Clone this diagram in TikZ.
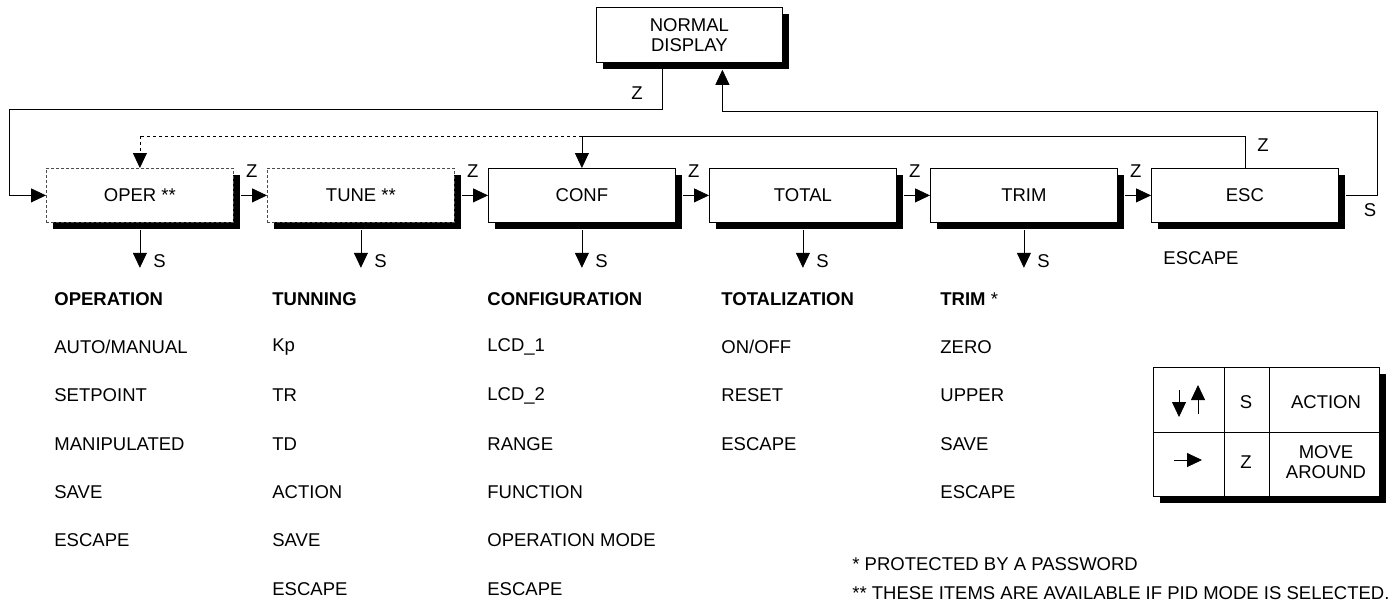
\documentclass[tikz,border=0pt]{standalone}
\usepackage{fontspec}
\setmainfont{Liberation Sans}
\usetikzlibrary{arrows.meta,shadows}

\begin{document}
\begin{tikzpicture}[x=1pt, y=-1pt, line width=0.8pt,
  txt/.style={font=\fontsize{18.5}{20}\selectfont, inner sep=0pt},
  boxshadow/.style={drop shadow={shadow xshift=7pt, shadow yshift=-7pt, fill=black, opacity=1}},
  menu/.style={txt, draw, fill=white, boxshadow, minimum width=187pt, minimum height=54pt, anchor=north west},
  optbox/.style={dash pattern=on 3pt off 2pt, draw=black!70},
  arr/.style={-{Triangle[length=15pt, width=14pt]}},
  item/.style={txt, anchor=west},
  head/.style={item, font=\fontsize{18.5}{20}\selectfont\bfseries}]
  \useasboundingbox (0,0) rectangle (1394,611);
  \coordinate (zleft) at (9,109); \coordinate (sright) at (1377,111); \coordinate (bus) at (0,136);
  % menu boxes
  \node[menu, align=center, minimum width=186pt, minimum height=55pt] (normal) at (596,7) {NORMAL\\DISPLAY};
  \node[menu, optbox] (oper) at (46,168) {OPER **};
  \node[menu, optbox] (tune) at (267,168) {TUNE **};
  \node[menu] (conf) at (488,168) {CONF};
  \node[menu] (total) at (709,168) {TOTAL};
  \node[menu] (trim) at (930,168) {TRIM};
  \node[menu] (esc) at (1151,168) {ESC};
  % Z: from one box to the next
  \foreach \a/\b in {oper/tune, tune/conf, conf/total, total/trim, trim/esc} {
    \draw[arr] ([xshift=7pt]\a.east) -- (\b.west);
    \node[txt, anchor=base west] (z\a) at ([xshift=12pt, yshift=-9pt]\a.north east) {Z};
  }
  % S: into the menu
  \foreach \b in {oper, tune, conf, total, trim}
    \draw[arr] ([yshift=-7pt]\b.south) -- ++(0,38) node[txt, anchor=base west, xshift=13pt] (s\b) {S};
  % Z from normal display
  \draw[arr] ([xshift=-27pt]normal.south) |- (zleft) |- (oper.west);
  \node[txt] (znormal) at (637,93) {Z};
  % S from esc back to normal display
  \draw[arr] ([xshift=7pt]esc.east) -| (sright) -| ([xshift=33pt, yshift=-7pt]normal.south);
  \node[txt] (sesc) at (1370,210) {S};
  % Z from esc (dashed if PID)
  \draw (esc.north) -- (esc.north |- bus) -- (conf.north |- bus);
  \draw[arr] (conf.north |- bus) -- (conf.north);
  \draw[dashed] (conf.north |- bus) -- (oper.north |- bus);
  \draw[arr, dashed] (oper.north |- bus) -- (oper.north);
  \node[txt] (zesc) at (1263,145) {Z};
  \node[item] (escape) at (1163,258) {ESCAPE};
  % sub menus
  \node[head] (hoper) at (54,299) {OPERATION};
  \foreach \t [count=\k] in {AUTO/MANUAL, SETPOINT, MANIPULATED, SAVE, ESCAPE}
    \node[item] (oper\k) at (54,299+48.3*\k) {\t};
  \node[head] (htune) at (272,299) {TUNNING};
  \foreach \t [count=\k] in {Kp, TR, TD, ACTION, SAVE, ESCAPE}
    \node[item] (tune\k) at (272,299+48.3*\k) {\t};
  \node[head] (hconf) at (487,299) {CONFIGURATION};
  \foreach \t [count=\k] in {LCD\_1, LCD\_2, RANGE, FUNCTION, OPERATION MODE, ESCAPE}
    \node[item] (conf\k) at (487,299+48.3*\k) {\t};
  \node[head] (htotal) at (721,299) {TOTALIZATION};
  \foreach \t [count=\k] in {ON/OFF, RESET, ESCAPE}
    \node[item] (total\k) at (721,299+48.3*\k) {\t};
  \node[head] (htrim) at (940,299) {TRIM \textmd{*}};
  \foreach \t [count=\k] in {ZERO, UPPER, SAVE, ESCAPE}
    \node[item] (trim\k) at (940,299+48.3*\k) {\t};
  % legend
  \node[draw, fill=white, boxshadow, minimum width=226pt, minimum height=129pt, inner sep=0pt, anchor=north west] (legend) at (1153,367) {};
  \draw (legend.west) -- (legend.east);
  \draw ([xshift=71pt]legend.north west) -- ([xshift=71pt]legend.south west);
  \draw ([xshift=116pt]legend.north west) -- ([xshift=116pt]legend.south west);
  \draw[arr] (1179,390) -- (1179,417);
  \draw[arr] (1198,414) -- (1198,385);
  \draw[arr] (1174,460) -- (1202,460);
  \node[txt] (ls) at (1246,402) {S};
  \node[txt] (laction) at (1326,402) {ACTION};
  \node[txt] (lz) at (1246,462) {Z};
  \node[txt, align=center] (lmove) at (1326,462) {MOVE\\AROUND};
  % notes
  \node[item] (note1) at (852,564) {* PROTECTED BY A PASSWORD};
  \node[item] (note2) at (852,593) {** THESE ITEMS ARE AVAILABLE IF PID MODE IS SELECTED.};
\end{tikzpicture}
\end{document}
